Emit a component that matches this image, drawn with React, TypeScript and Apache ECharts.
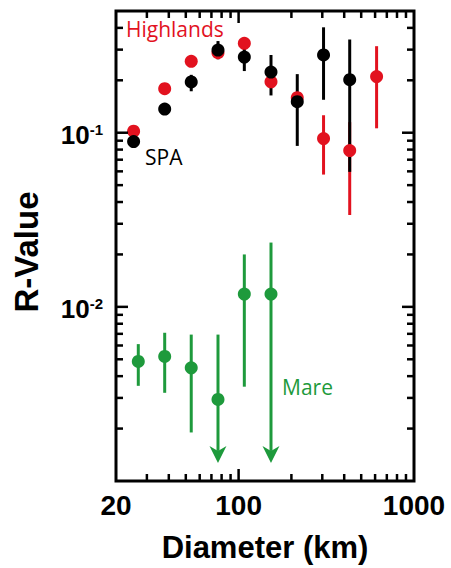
import React, { useEffect, useRef } from "react";
import * as echarts from "echarts";

// ---- Data ----
const diameters = [25.2, 37.9, 53.7, 76.3, 107.8, 153, 216, 305, 430, 612];

const highlandsValue = [0.102, 0.179, 0.257, 0.288, 0.326, 0.196, 0.159, 0.0925, 0.079, 0.21];
const highlandsLow = [null, null, null, null, null, null, null, 0.0575, 0.0337, 0.106];
const highlandsHigh = [null, null, null, null, null, null, null, 0.126, 0.115, 0.314];

const spaDiameters = [25.2, 37.9, 53.7, 76.3, 107.8, 153, 216, 305, 430];
const spaValue = [0.0889, 0.1368, 0.1956, 0.2985, 0.272, 0.223, 0.1507, 0.2795, 0.2016];
const spaLow = [null, null, 0.173, 0.264, 0.226, 0.1637, 0.084, 0.1546, 0.0596];
const spaHigh = [null, null, 0.215, 0.336, 0.319, 0.2795, 0.217, 0.403, 0.343];

const mareDiameters = [26.8, 37.9, 53.7, 76.3, 107.8, 153];
const mareValue = [0.00486, 0.00519, 0.00447, 0.00294, 0.01185, 0.01185];
const mareLow = [0.00352, 0.00321, 0.0019, 0.00127, 0.00348, 0.00127];
const mareHigh = [0.00611, 0.0071, 0.00693, 0.00693, 0.02, 0.0234];
const mareUpperLimit = [0, 0, 0, 1, 0, 1];

const xMajorTicks = [100];
const xMinorTicks = [30, 40, 50, 60, 70, 80, 90, 200, 300, 400, 500, 600, 700, 800, 900];
const yMajorTicks = [0.01, 0.1];
const yMinorTicks = [
  0.002, 0.003, 0.004, 0.005, 0.006, 0.007, 0.008, 0.009,
  0.02, 0.03, 0.04, 0.05, 0.06, 0.07, 0.08, 0.09,
  0.2, 0.3, 0.4,
];

const RED = "#e2121f";
const GREEN = "#1e9a3c";
const BLACK = "#000000";

function errorData(xs: number[], lows: (number | null)[], highs: (number | null)[], flags?: number[]) {
  const out: number[][] = [];
  xs.forEach((x, i) => {
    const lo = lows[i];
    const hi = highs[i];
    if (lo != null && hi != null) out.push([x, lo, hi, flags ? flags[i] : 0]);
  });
  return out;
}

function errorSeries(name: string, data: number[][], color: string) {
  return {
    type: "custom",
    name,
    data,
    encode: { x: 0, y: [1, 2] },
    clip: false,
    silent: true,
    renderItem: (params: any, api: any) => {
      const x = api.value(0);
      const lo = api.value(1);
      const hi = api.value(2);
      const arrow = api.value(3);
      const p1 = api.coord([x, lo]);
      const p2 = api.coord([x, hi]);
      const children: any[] = [];
      const endY = arrow ? p1[1] - 12 : p1[1];
      children.push({
        type: "line",
        shape: { x1: p1[0], y1: endY, x2: p2[0], y2: p2[1] },
        style: { stroke: color, lineWidth: 3 },
      });
      if (arrow) {
        children.push({
          type: "polygon",
          shape: {
            points: [
              [p1[0] - 8.5, p1[1] - 17],
              [p1[0], p1[1] - 12],
              [p1[0] + 8.5, p1[1] - 17],
              [p1[0], p1[1]],
            ],
          },
          style: { fill: color },
        });
      }
      return { type: "group", children };
    },
  };
}

function tickSeries(axis: "x" | "y") {
  const data: number[][] = [];
  if (axis === "x") {
    xMajorTicks.forEach((v) => data.push([v, 0.01, 1]));
    xMinorTicks.forEach((v) => data.push([v, 0.01, 0]));
  } else {
    yMajorTicks.forEach((v) => data.push([100, v, 1]));
    yMinorTicks.forEach((v) => data.push([100, v, 0]));
  }
  return {
    type: "custom",
    data,
    clip: false,
    silent: true,
    z: 10,
    renderItem: (params: any, api: any) => {
      const cs = params.coordSys;
      const major = api.value(2);
      const len = major ? 12 : 7;
      const p = api.coord([api.value(0), api.value(1)]);
      const style = { stroke: BLACK, lineWidth: 2.5 };
      if (axis === "x") {
        const bottom = cs.y + cs.height;
        return {
          type: "group",
          children: [
            { type: "line", shape: { x1: p[0], y1: bottom, x2: p[0], y2: bottom - len }, style },
            { type: "line", shape: { x1: p[0], y1: cs.y, x2: p[0], y2: cs.y + len }, style },
          ],
        };
      }
      const right = cs.x + cs.width;
      return {
        type: "group",
        children: [
          { type: "line", shape: { x1: cs.x, y1: p[1], x2: cs.x + len, y2: p[1] }, style },
          { type: "line", shape: { x1: right, y1: p[1], x2: right - len, y2: p[1] }, style },
        ],
      };
    },
  };
}

export default function App() {
  const ref = useRef<HTMLDivElement>(null);
  useEffect(() => {
    if (!ref.current) return;
    const chart = echarts.init(ref.current, undefined, { renderer: "svg" });
    const option: any = {
      animation: false,
      backgroundColor: "#ffffff",
      grid: {
        left: 116,
        top: 11,
        width: 298,
        height: 474,
        show: true,
        borderColor: BLACK,
        borderWidth: 3,
        backgroundColor: "transparent",
      },
      xAxis: {
        type: "log",
        logBase: 10,
        min: 20,
        max: 1000,
        name: "Diameter (km)",
        nameLocation: "middle",
        nameGap: 51,
        nameTextStyle: {
          fontFamily: "Liberation Sans",
          fontWeight: "bold",
          fontSize: 31,
          color: BLACK,
        },
        axisLine: { show: false },
        axisTick: { show: false },
        splitLine: { show: false },
        minorTick: { show: false },
        axisLabel: {
          margin: 10,
          fontFamily: "Liberation Sans",
          fontWeight: "bold",
          fontSize: 28,
          color: BLACK,
          formatter: (v: number) => String(Math.round(v)),
        },
      },
      yAxis: {
        type: "log",
        logBase: 10,
        min: 0.001,
        max: 0.5,
        axisLine: { show: false },
        axisTick: { show: false },
        splitLine: { show: false },
        axisLabel: {
          margin: 13,
          padding: [4, 0, 0, 0],
          formatter: (v: number) => {
            const e = Math.round(Math.log10(v));
            if (Math.abs(Math.log10(v) - e) > 0.01) return "";
            if (e === -1 || e === -2) return `{b|10}{s|${e}}`;
            return "";
          },
          rich: {
            b: { fontFamily: "Liberation Sans", fontWeight: "bold", fontSize: 26, color: BLACK },
            s: {
              fontFamily: "Liberation Sans",
              fontWeight: "bold",
              fontSize: 15,
              color: BLACK,
              verticalAlign: "top",
            },
          },
        },
      },
      graphic: [
        {
          type: "text",
          x: 26,
          y: 252,
          rotation: Math.PI / 2,
          style: {
            text: "R-Value",
            fill: BLACK,
            fontFamily: "Liberation Sans",
            fontWeight: "bold",
            fontSize: 33,
            align: "center",
            verticalAlign: "middle",
          },
        },
        {
          type: "text",
          x: 126,
          y: 29,
          style: {
            text: "Highlands",
            fill: RED,
            fontFamily: "Open Sans",
            fontSize: 21,
            align: "left",
            verticalAlign: "middle",
          },
        },
        {
          type: "text",
          x: 145,
          y: 157,
          style: {
            text: "SPA",
            fill: BLACK,
            fontFamily: "Open Sans",
            fontSize: 21,
            align: "left",
            verticalAlign: "middle",
          },
        },
        {
          type: "text",
          x: 282,
          y: 387,
          style: {
            text: "Mare",
            fill: GREEN,
            fontFamily: "Open Sans",
            fontSize: 21,
            align: "left",
            verticalAlign: "middle",
          },
        },
      ],
      series: [
        tickSeries("x"),
        tickSeries("y"),
        errorSeries("Highlands error", errorData(diameters, highlandsLow, highlandsHigh), RED),
        errorSeries("SPA error", errorData(spaDiameters, spaLow, spaHigh), BLACK),
        {
          type: "scatter",
          name: "Highlands",
          data: diameters.map((d, i) => [d, highlandsValue[i]]),
          symbol: "circle",
          symbolSize: 13,
          itemStyle: { color: RED, opacity: 1 },
        },
        {
          type: "scatter",
          name: "SPA",
          data: spaDiameters.map((d, i) => [d, spaValue[i]]),
          symbol: "circle",
          symbolSize: 13,
          itemStyle: { color: BLACK, opacity: 1 },
        },
        errorSeries("Mare error", errorData(mareDiameters, mareLow, mareHigh, mareUpperLimit), GREEN),
        {
          type: "scatter",
          name: "Mare",
          data: mareDiameters.map((d, i) => [d, mareValue[i]]),
          symbol: "circle",
          symbolSize: 13,
          itemStyle: { color: GREEN, opacity: 1 },
        },
      ],
    };
    chart.setOption(option);
    return () => chart.dispose();
  }, []);
  return (
    <div
      ref={ref}
      style={{ position: "fixed", left: 0, top: 0, width: 451, height: 568, background: "#fff" }}
    />
  );
}
